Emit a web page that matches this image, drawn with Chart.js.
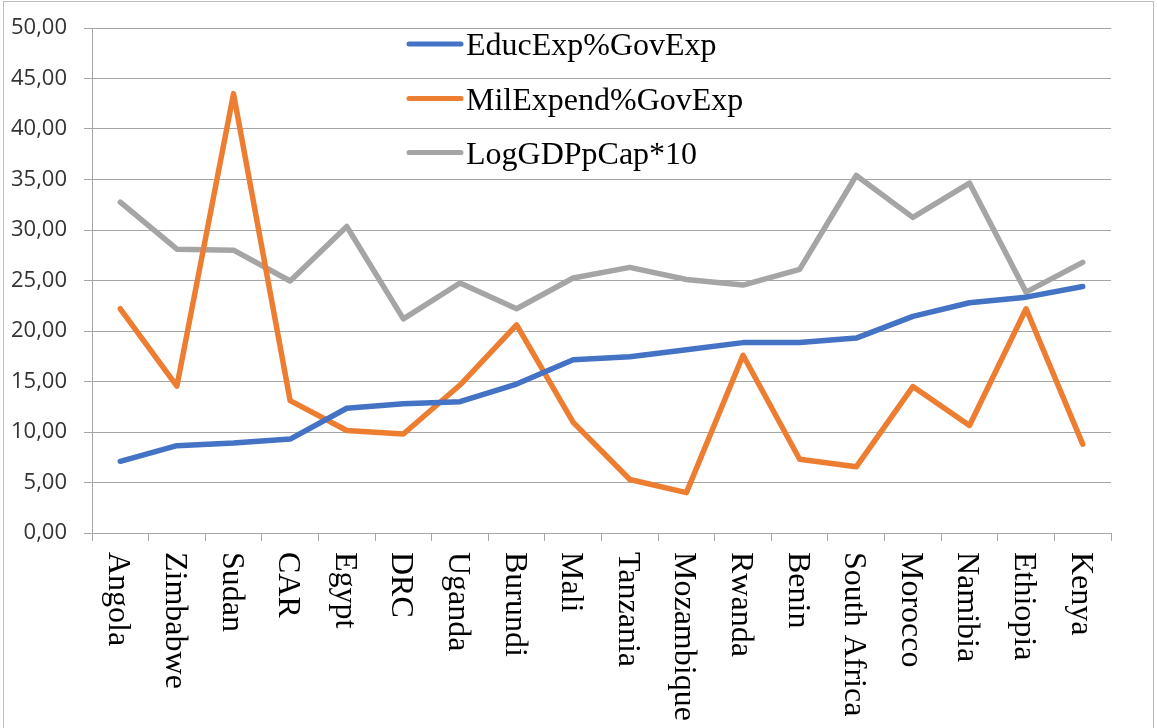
<!DOCTYPE html>
<html>
<head>
<meta charset="utf-8">
<script src="https://cdn.jsdelivr.net/npm/chart.js@4"></script>
<style>
  html, body { margin: 0; padding: 0; background: #fff; }
  #wrap { width: 1157px; height: 728px; position: relative; }
</style>
</head>
<body>
<div id="wrap"><canvas id="c"></canvas></div>
<script>
const categories = ["Angola","Zimbabwe","Sudan","CAR","Egypt","DRC","Uganda","Burundi","Mali","Tanzania","Mozambique","Rwanda","Benin","South Africa","Morocco","Namibia","Ethiopia","Kenya"];
const educExp = [7.1, 8.65, 8.9, 9.3, 12.35, 12.8, 13.0, 14.75, 17.15, 17.45, 18.15, 18.85, 18.85, 19.3, 21.45, 22.8, 23.35, 24.4];
const milExp  = [22.2, 14.55, 43.5, 13.1, 10.15, 9.8, 14.65, 20.6, 10.95, 5.3, 4.0, 17.6, 7.3, 6.55, 14.5, 10.65, 22.2, 8.8];
const logGdp  = [32.75, 28.1, 28.0, 24.95, 30.35, 21.2, 24.75, 22.2, 25.25, 26.3, 25.1, 24.55, 26.1, 35.4, 31.25, 34.65, 23.85, 26.8];
const seriesNames = ["EducExp%GovExp", "MilExpend%GovExp", "LogGDPpCap*10"];
const yTickLabels = ["0,00","5,00","10,00","15,00","20,00","25,00","30,00","35,00","40,00","45,00","50,00"];

const colors = ["#4472C4", "#ED7D31", "#A5A5A5"];

const framePlugin = {
  id: 'frame',
  beforeDraw(chart) {
    const ctx = chart.ctx;
    ctx.save();
    ctx.fillStyle = '#fff';
    ctx.fillRect(0, 0, chart.width, chart.height);
    ctx.strokeStyle = '#bdbdbd';
    ctx.lineWidth = 1;
    ctx.strokeRect(3.5, 1.5, 1150, 800);
    ctx.restore();
  }
};

const xLabelPlugin = {
  id: 'xlabels',
  afterDraw(chart) {
    const ctx = chart.ctx;
    const xs = chart.scales.x;
    ctx.save();
    ctx.font = '32px "Liberation Serif", "Times New Roman", serif';
    ctx.fillStyle = '#000';
    ctx.textAlign = 'left';
    ctx.textBaseline = 'alphabetic';
    categories.forEach((c, i) => {
      const x = xs.getPixelForValue(i);
      ctx.save();
      ctx.translate(x - 11, xs.top + 19);
      ctx.rotate(Math.PI / 2);
      ctx.fillText(c, 0, 0);
      ctx.restore();
    });
    ctx.restore();
  }
};

const legendPlugin = {
  id: 'customLegend',
  afterDatasetsDraw(chart) {
    const ctx = chart.ctx;
    const ys = [44, 98.5, 152.5];
    ctx.save();
    ctx.font = '32px "Liberation Serif", "Times New Roman", serif';
    ctx.textBaseline = 'alphabetic';
    ctx.textAlign = 'left';
    chart.data.datasets.forEach((ds, i) => {
      const y = ys[i];
      ctx.strokeStyle = ds.borderColor;
      ctx.lineWidth = 5;
      ctx.lineCap = 'round';
      ctx.beginPath();
      ctx.moveTo(409, y);
      ctx.lineTo(461, y);
      ctx.stroke();
      ctx.fillStyle = '#000';
      ctx.fillText(ds.label, 466, y + 11);
    });
    ctx.restore();
  }
};

new Chart(document.getElementById('c'), {
  type: 'line',
  data: {
    labels: categories,
    datasets: [
      { label: seriesNames[0], data: educExp, borderColor: colors[0], backgroundColor: colors[0] },
      { label: seriesNames[1], data: milExp, borderColor: colors[1], backgroundColor: colors[1] },
      { label: seriesNames[2], data: logGdp, borderColor: colors[2], backgroundColor: colors[2] }
    ].map(d => Object.assign(d, {
      borderWidth: 5.5, pointRadius: 0, pointHoverRadius: 0, tension: 0,
      borderCapStyle: 'round', borderJoinStyle: 'round', fill: false
    }))
  },
  options: {
    responsive: true,
    maintainAspectRatio: false,
    animation: false,
    events: [],
    layout: { padding: { top: 28, left: 8, right: 46, bottom: 187 } },
    plugins: { legend: { display: false }, tooltip: { enabled: false } },
    scales: {
      x: {
        offset: true,
        grid: { display: true, offset: true, drawOnChartArea: false, drawTicks: true, tickLength: 8, color: '#a6a6a6', lineWidth: 1 },
        border: { display: true, color: '#a6a6a6', width: 1 },
        ticks: { display: false }
      },
      y: {
        min: 0, max: 50,
        afterFit(scale) { scale.width = 84; scale.paddingTop = 0; scale.paddingBottom = 0; },
        ticks: {
          stepSize: 5,
          padding: 17,
          color: '#333',
          font: { family: '"Open Sans", "Liberation Sans", sans-serif', size: 22 },
          callback: (v, i) => yTickLabels[i]
        },
        grid: { color: '#a6a6a6', lineWidth: 1, tickLength: 8, drawTicks: true },
        border: { display: true, color: '#a6a6a6', width: 1 }
      }
    }
  },
  plugins: [framePlugin, xLabelPlugin, legendPlugin]
});
</script>
</body>
</html>
